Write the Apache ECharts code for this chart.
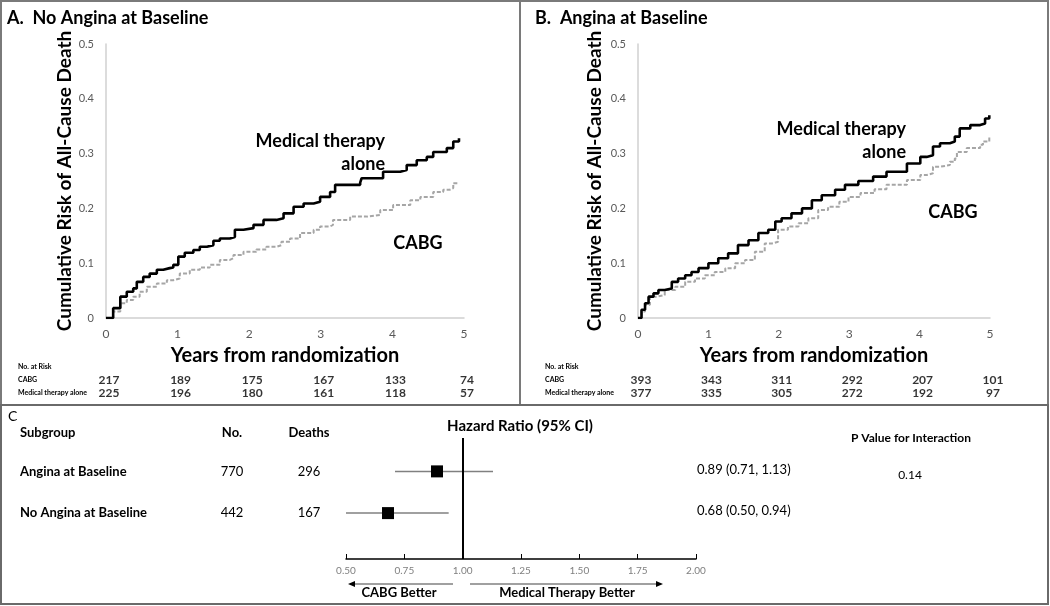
<!DOCTYPE html>
<html><head><meta charset="utf-8">
<script src="https://cdn.jsdelivr.net/npm/echarts@6/dist/echarts.min.js"></script>
<style>html,body{margin:0;padding:0;background:#fff}#c{width:1050px;height:606px}</style>
</head><body><div id="c"></div>
<script>
// ---------- data ----------
const yearTicks = [0, 1, 2, 3, 4, 5];
const riskTicks = [0, 0.1, 0.2, 0.3, 0.4, 0.5];
const kmA_mt = [[0,0],[0.10,0.018],[0.20,0.039],[0.29,0.048],[0.38,0.054],[0.43,0.066],[0.52,0.075],[0.61,0.081],[0.71,0.088],[0.80,0.091],[0.89,0.092],[0.94,0.097],[1.01,0.112],[1.10,0.119],[1.22,0.124],[1.31,0.130],[1.41,0.133],[1.50,0.141],[1.59,0.145],[1.73,0.148],[1.80,0.161],[1.92,0.164],[2.06,0.170],[2.20,0.179],[2.38,0.182],[2.48,0.191],[2.62,0.203],[2.76,0.209],[2.90,0.212],[2.99,0.221],[3.13,0.230],[3.20,0.243],[3.55,0.247],[3.57,0.255],[3.87,0.267],[4.11,0.270],[4.20,0.279],[4.34,0.288],[4.48,0.294],[4.57,0.303],[4.76,0.310],[4.85,0.322],[4.93,0.328]];
const kmA_cabg = [[0,0],[0.10,0.012],[0.20,0.027],[0.29,0.033],[0.38,0.039],[0.47,0.048],[0.57,0.057],[0.71,0.063],[0.85,0.069],[0.94,0.072],[1.03,0.081],[1.17,0.088],[1.31,0.092],[1.45,0.097],[1.59,0.106],[1.73,0.109],[1.78,0.115],[1.92,0.121],[2.10,0.125],[2.24,0.130],[2.38,0.133],[2.45,0.139],[2.57,0.145],[2.71,0.155],[2.90,0.161],[2.99,0.167],[3.13,0.170],[3.17,0.179],[3.41,0.185],[3.64,0.188],[3.83,0.197],[4.01,0.206],[4.25,0.215],[4.39,0.221],[4.57,0.230],[4.71,0.234],[4.80,0.237],[4.85,0.246],[4.93,0.247]];
const kmB_mt = [[0,0],[0.05,0.015],[0.10,0.027],[0.15,0.039],[0.22,0.045],[0.29,0.051],[0.38,0.054],[0.48,0.066],[0.57,0.072],[0.67,0.078],[0.76,0.084],[0.86,0.091],[1.00,0.100],[1.14,0.109],[1.28,0.118],[1.42,0.133],[1.57,0.142],[1.71,0.155],[1.85,0.161],[1.95,0.176],[2.04,0.182],[2.18,0.191],[2.33,0.200],[2.47,0.215],[2.61,0.224],[2.80,0.234],[2.94,0.243],[3.13,0.250],[3.34,0.258],[3.53,0.267],[3.82,0.282],[4.01,0.294],[4.10,0.297],[4.19,0.313],[4.29,0.319],[4.43,0.322],[4.50,0.331],[4.57,0.346],[4.72,0.352],[4.86,0.355],[4.93,0.364],[4.99,0.370]];
const kmB_cabg = [[0,0],[0.05,0.012],[0.10,0.024],[0.17,0.039],[0.27,0.042],[0.38,0.051],[0.53,0.057],[0.67,0.066],[0.81,0.072],[0.95,0.078],[1.09,0.084],[1.24,0.091],[1.38,0.100],[1.52,0.106],[1.66,0.121],[1.80,0.136],[1.90,0.139],[1.99,0.161],[2.13,0.167],[2.28,0.173],[2.42,0.182],[2.56,0.197],[2.70,0.203],[2.86,0.212],[2.99,0.221],[3.16,0.228],[3.36,0.235],[3.53,0.243],[3.82,0.252],[4.01,0.261],[4.10,0.264],[4.19,0.276],[4.29,0.279],[4.43,0.285],[4.50,0.291],[4.53,0.303],[4.67,0.310],[4.86,0.316],[4.90,0.322],[4.99,0.331]];
const riskRows = ['No. at Risk', 'CABG', 'Medical therapy alone'];
const riskA_cabg = [217, 189, 175, 167, 133, 74];
const riskA_mt = [225, 196, 180, 161, 118, 57];
const riskB_cabg = [393, 343, 311, 292, 207, 101];
const riskB_mt = [377, 335, 305, 272, 192, 97];
const subgroups = ['Angina at Baseline', 'No Angina at Baseline'];
const nPatients = [770, 442];
const nDeaths = [296, 167];
const hr = [0.89, 0.68];
const ciLow = [0.71, 0.50];
const ciHigh = [1.13, 0.94];
const pInteraction = ['0.14'];
const hrTicks = [0.5, 0.75, 1.0, 1.25, 1.5, 1.75, 2.0];

// ---------- chart ----------
const FONT = 'Lato';
const chart = echarts.init(document.getElementById('c'));
const grids = [
  {left: 106, top: 44, width: 358, height: 274},
  {left: 638, top: 44, width: 352, height: 274},
  {left: 106, top: 360.5, width: 358, height: 39},
  {left: 638, top: 360.5, width: 352, height: 39},
  {left: 346, top: 438, width: 350, height: 121}
];
function kmX(gap) {
  return {type: 'value', min: 0, max: 5, interval: 1,
    axisLine: {lineStyle: {color: '#d0d0d0', width: 1.5}}, axisTick: {show: false}, splitLine: {show: false},
    axisLabel: {color: '#595959', fontSize: 12, fontFamily: FONT, margin: 10},
    name: 'Years from randomization', nameLocation: 'middle', nameGap: gap,
    nameTextStyle: {fontSize: 20, fontWeight: 'bold', color: '#000', fontFamily: FONT}};
}
function kmY(gap) {
  return {type: 'value', min: 0, max: 0.5, interval: 0.1,
    axisLine: {show: true, lineStyle: {color: '#d0d0d0', width: 1.5}}, axisTick: {show: false}, splitLine: {show: false},
    axisLabel: {color: '#595959', fontSize: 11, fontFamily: FONT, margin: 12, formatter: v => v === 0 ? '0' : v.toFixed(1)},
    name: 'Cumulative Risk of All-Cause Death', nameLocation: 'middle', nameGap: gap,
    nameTextStyle: {fontSize: 19, fontWeight: 'bold', color: '#000', fontFamily: FONT}};
}
function riskX() {
  return {type: 'value', min: 0, max: 5, show: false};
}
function riskY(margin) {
  return {type: 'category', data: riskRows, inverse: true, axisLine: {show: false}, axisTick: {show: false},
    axisLabel: {align: 'left', margin: margin, fontSize: 7, fontWeight: 'bold', color: '#000', fontFamily: FONT}};
}
function kmLine(data, xi, dashed) {
  return {type: 'line', xAxisIndex: xi, yAxisIndex: xi, data: data, step: 'end', symbol: 'none', silent: true,
    lineStyle: dashed ? {color: '#a6a6a6', width: 2, type: [4, 2]} : {color: '#000', width: 2.6}};
}
function riskSeries(xi, rowName, vals) {
  return {type: 'scatter', xAxisIndex: xi, yAxisIndex: xi, symbolSize: 0, silent: true,
    data: vals.map((v, i) => [yearTicks[i], rowName, v]),
    label: {show: true, position: 'inside', offset: [3, 0], formatter: p => p.value[2], fontSize: 12, fontWeight: 'bold', color: '#000', fontFamily: FONT}};
}
const series = [
  kmLine(kmA_cabg, 0, true), kmLine(kmA_mt, 0, false),
  kmLine(kmB_cabg, 1, true), kmLine(kmB_mt, 1, false),
  riskSeries(2, riskRows[1], riskA_cabg), riskSeries(2, riskRows[2], riskA_mt),
  riskSeries(3, riskRows[1], riskB_cabg), riskSeries(3, riskRows[2], riskB_mt)
];
subgroups.forEach((s, i) => {
  series.push({type: 'line', xAxisIndex: 4, yAxisIndex: 4, data: [[ciLow[i], i], [ciHigh[i], i]], symbol: 'none', silent: true,
    lineStyle: {color: '#808080', width: 1.5}});
});
series.push({type: 'scatter', xAxisIndex: 4, yAxisIndex: 4, symbol: 'rect', symbolSize: 12, silent: true,
  itemStyle: {color: '#000', opacity: 1}, data: hr.map((v, i) => [v, i]), z: 5,
  markLine: {silent: true, symbol: 'none', label: {show: false}, lineStyle: {color: '#000', width: 2, type: 'solid'}, data: [{xAxis: 1}]}});

const F = (w, s) => `${w} ${s}px ${FONT}`;
const txt = (text, x, y, font, align, fill) => ({type: 'text', silent: true, style: {text: String(text), x: x, y: y, font: font, textAlign: align || 'left', textVerticalAlign: 'middle', fill: fill || '#000'}});
const graphics = [
  {type: 'rect', shape: {x: 1, y: 1, width: 519, height: 404}, style: {fill: 'none', stroke: '#7a7a7a', lineWidth: 2}},
  {type: 'rect', shape: {x: 520, y: 1, width: 528, height: 404}, style: {fill: 'none', stroke: '#7a7a7a', lineWidth: 2}},
  {type: 'rect', shape: {x: 1, y: 405, width: 1047, height: 199}, style: {fill: 'none', stroke: '#6a6a6a', lineWidth: 2}},
  txt('A.  No Angina at Baseline', 7, 18, F('bold', 18)),
  txt('B.  Angina at Baseline', 535, 18, F('bold', 18)),
  txt('Medical therapy', 385, 141, F('bold', 18), 'right'),
  txt('alone', 385, 164, F('bold', 18), 'right'),
  txt('CABG', 418, 243, F('bold', 18), 'center'),
  txt('Medical therapy', 906, 129, F('bold', 18), 'right'),
  txt('alone', 906, 152, F('bold', 18), 'right'),
  txt('CABG', 953, 212, F('bold', 18), 'center'),
  txt('C', 8, 416, F('normal', 14)),
  txt('Subgroup', 20, 433, F('bold', 13)),
  txt('No.', 232, 433, F('bold', 13), 'center'),
  txt('Deaths', 309, 433, F('bold', 13), 'center'),
  txt('Hazard Ratio (95% CI)', 520, 426, F('bold', 15), 'center'),
  txt('P Value for Interaction', 911, 438, F('bold', 12), 'center'),
  txt(pInteraction[0], 910, 475, F('normal', 12), 'center'),
  txt('CABG Better', 399, 593, F('bold', 13), 'center'),
  txt('Medical Therapy Better', 567, 593, F('bold', 13), 'center'),
  {type: 'line', shape: {x1: 453, y1: 584, x2: 354, y2: 584}, style: {stroke: '#808080', lineWidth: 1.5}},
  {type: 'polygon', shape: {points: [[348, 584], [355, 581], [355, 587]]}, style: {fill: '#000'}},
  {type: 'line', shape: {x1: 470, y1: 584, x2: 656, y2: 584}, style: {stroke: '#808080', lineWidth: 1.5}},
  {type: 'polygon', shape: {points: [[663, 584], [656, 581], [656, 587]]}, style: {fill: '#000'}}
];
const rowY = [472, 513];
subgroups.forEach((s, i) => {
  graphics.push(txt(s, 20, rowY[i], F('bold', 13)));
  graphics.push(txt(nPatients[i], 232, rowY[i], F('normal', 13), 'center'));
  graphics.push(txt(nDeaths[i], 309, rowY[i], F('normal', 13), 'center'));
  graphics.push(txt(`${hr[i].toFixed(2)} (${ciLow[i].toFixed(2)}, ${ciHigh[i].toFixed(2)})`, 697, rowY[i] - 2, F('normal', 13)));
});

chart.setOption({
  animation: false,
  backgroundColor: '#fff',
  grid: grids,
  xAxis: [kmX(28), kmX(28), riskX(), riskX(),
    {type: 'value', min: 0.5, max: 2, interval: 0.25,
      axisLine: {onZero: false, lineStyle: {color: '#000', width: 1.5}}, axisTick: {show: true, inside: true, length: 5, lineStyle: {color: '#000'}},
      splitLine: {show: false}, axisLabel: {color: '#7f7f7f', fontSize: 10, fontFamily: FONT, margin: 7, formatter: v => v.toFixed(2)}}
  ].map((a, i) => Object.assign({gridIndex: i}, a)),
  yAxis: [kmY(28), kmY(34), riskY(88), riskY(93),
    {type: 'value', inverse: true, min: -0.8, max: 2.1, show: false}
  ].map((a, i) => Object.assign({gridIndex: i}, a)),
  series: series,
  graphic: graphics
});
</script></body></html>
